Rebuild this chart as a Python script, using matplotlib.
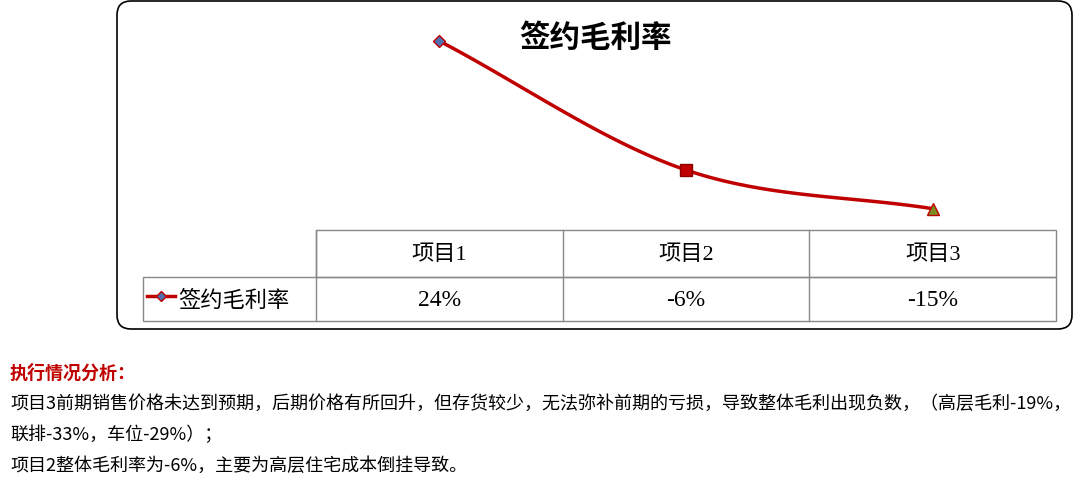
import numpy as np
import matplotlib
matplotlib.use("Agg")
import matplotlib.pyplot as plt
from matplotlib.patches import FancyBboxPatch, Rectangle

plt.rcParams['font.family'] = ['Noto Sans CJK SC', 'DejaVu Sans']
SER = ['Liberation Serif', 'Noto Sans CJK SC']

title = "签约毛利率"
categories = ["项目1", "项目2", "项目3"]
values = [24, -6, -15]
labels = ["24%", "-6%", "-15%"]
note_title = "执行情况分析："
note_lines = ["项目3前期销售价格未达到预期，后期价格有所回升，但存货较少，无法弥补前期的亏损，导致整体毛利出现负数，（高层毛利-19%，",
              "联排-33%，车位-29%）；",
              "项目2整体毛利率为-6%，主要为高层住宅成本倒挂导致。"]

W, H = 1080, 489
fig = plt.figure(figsize=(W/100, H/100), dpi=100)
bg = fig.add_axes([0, 0, 1, 1]); bg.set_xlim(0, W); bg.set_ylim(H, 0); bg.axis('off')

bg.add_patch(FancyBboxPatch((117, 2), 955, 328, boxstyle="round,pad=0,rounding_size=14",
                            fc='white', ec='black', lw=1.2))
bg.text(595, 38, title, ha='center', va='center', fontsize=22, fontweight='bold')

gc = '#888888'
x0, x1 = 316, 1056
cw = (x1 - x0) / 3
bg.add_patch(Rectangle((x0, 231), x1 - x0, 47, fill=False, ec=gc, lw=1))
bg.add_patch(Rectangle((143, 278), x1 - 143, 44, fill=False, ec=gc, lw=1))
for i in range(1, 3):
    bg.plot([x0 + i*cw]*2, [231, 322], color=gc, lw=1)
bg.plot([x0, x0], [231, 322], color=gc, lw=1)
for i, (c, l) in enumerate(zip(categories, labels)):
    cx = x0 + (i + 0.5) * cw
    bg.text(cx, 255, c, ha='center', va='center', fontsize=16, family=SER)
    bg.text(cx, 300, l, ha='center', va='center', fontsize=17, family=SER)
bg.plot([147, 175], [297, 297], color='#C00000', lw=2.5)
bg.plot([161], [297], marker='D', ms=5, mfc='#4F6FB0', mec='#C00000')
bg.text(178, 300, title, ha='left', va='center', fontsize=16)

ax = fig.add_axes([x0/W, 1 - 225/H, (x1-x0)/W, 195/H])
ax.set_xlim(-0.5, 2.5)
ax.set_ylim(24 - 183/4.3, 24 + 12/4.3)
ax.axis('off')
x = np.arange(len(values), dtype=float); y = np.array(values, float)
px = np.concatenate([[2*x[0]-x[1]], x, [2*x[-1]-x[-2]]])
py = np.concatenate([[2*y[0]-y[1]], y, [2*y[-1]-y[-2]]])
sx, sy = [], []
t = np.linspace(0, 1, 60)
for i in range(1, len(px)-2):
    for arr, out in ((px, sx), (py, sy)):
        p0, p1, p2, p3 = arr[i-1:i+3]
        out.extend(0.5*((2*p1) + (-p0+p2)*t + (2*p0-5*p1+4*p2-p3)*t**2 + (-p0+3*p1-3*p2+p3)*t**3))
ax.plot(sx, sy, color='#C00000', lw=2.5)
ax.plot(x[0], y[0], marker='D', ms=6, mfc='#4F6FB0', mec='#C00000', mew=1)
ax.plot(x[1], y[1], marker='s', ms=8, mfc='#C00000', mec='#8B0000')
ax.plot(x[2], y[2], marker='^', ms=8, mfc='#7A8F20', mec='#C00000')

bg.text(10, 373, note_title, ha='left', va='center', fontsize=13, fontweight='bold', color='#C00000')
for k, s in enumerate(note_lines):
    bg.text(10, 404 + k*31, s, ha='left', va='center', fontsize=13)

fig.savefig("out.png", dpi=100)
